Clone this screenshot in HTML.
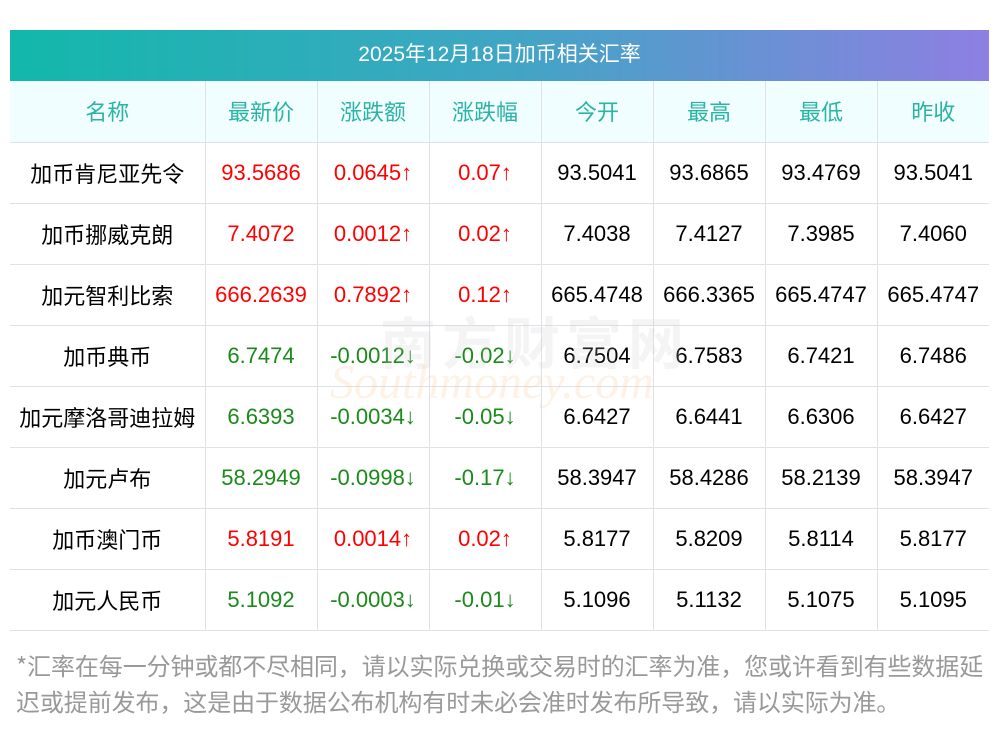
<!DOCTYPE html>
<html><head><meta charset="utf-8"><style>
body{margin:0;width:1000px;height:733px;background:#fff;font-family:"Liberation Sans","Noto Sans CJK SC",sans-serif;position:relative;overflow:hidden}
.title{position:absolute;left:10px;top:30px;width:979px;height:51px;background:linear-gradient(90deg,#12b8aa,#3fa6c4 50%,#8e7fe2);color:#fff;font-size:21px;line-height:49px;text-align:center}
table{position:absolute;left:10px;top:81px;width:979px;border-collapse:collapse;table-layout:fixed}
tr{height:61px}
td,th{height:60px;border:1px solid #e0e0e8;text-align:center;font-size:22px;font-weight:normal;padding:0;white-space:nowrap;line-height:1;overflow:hidden}
tr>*:first-child{border-left:none}tr>*:last-child{border-right:none}
th{background:#f0feff;color:#2bb3a6;font-family:"Noto Sans CJK SC",sans-serif}
td:first-child{font-family:"Noto Sans CJK SC",sans-serif}
tr:first-child th{border-top:none}
.r{color:#f00}.g{color:#1a8a1a}
.note{position:absolute;left:16px;top:647px;width:980px;color:#999;font-size:24px;line-height:36px;font-family:"Noto Sans CJK SC",sans-serif;letter-spacing:-0.1px;white-space:nowrap}
.wm{position:absolute;left:380px;top:300px;color:rgba(200,200,200,.2);font-size:56px;font-weight:bold;letter-spacing:6px;font-family:"Noto Sans CJK SC",sans-serif}
.wm2{position:absolute;left:330px;top:355px;color:rgba(250,200,150,.25);font-size:48px;font-style:italic;font-family:"Liberation Serif",serif}
</style></head><body>
<div class="title">2025年12月18日加币相关汇率</div>
<table>
<colgroup><col style="width:195px"><col style="width:112px"><col style="width:112px"><col style="width:112px"><col style="width:112px"><col style="width:112px"><col style="width:112px"><col style="width:112px"></colgroup>
<tr><th>名称</th><th>最新价</th><th>涨跌额</th><th>涨跌幅</th><th>今开</th><th>最高</th><th>最低</th><th>昨收</th></tr>
<tr><td>加币肯尼亚先令</td><td class="r">93.5686</td><td class="r">0.0645↑</td><td class="r">0.07↑</td><td>93.5041</td><td>93.6865</td><td>93.4769</td><td>93.5041</td></tr>
<tr><td>加币挪威克朗</td><td class="r">7.4072</td><td class="r">0.0012↑</td><td class="r">0.02↑</td><td>7.4038</td><td>7.4127</td><td>7.3985</td><td>7.4060</td></tr>
<tr><td>加元智利比索</td><td class="r">666.2639</td><td class="r">0.7892↑</td><td class="r">0.12↑</td><td>665.4748</td><td>666.3365</td><td>665.4747</td><td>665.4747</td></tr>
<tr><td>加币典币</td><td class="g">6.7474</td><td class="g">-0.0012↓</td><td class="g">-0.02↓</td><td>6.7504</td><td>6.7583</td><td>6.7421</td><td>6.7486</td></tr>
<tr><td>加元摩洛哥迪拉姆</td><td class="g">6.6393</td><td class="g">-0.0034↓</td><td class="g">-0.05↓</td><td>6.6427</td><td>6.6441</td><td>6.6306</td><td>6.6427</td></tr>
<tr><td>加元卢布</td><td class="g">58.2949</td><td class="g">-0.0998↓</td><td class="g">-0.17↓</td><td>58.3947</td><td>58.4286</td><td>58.2139</td><td>58.3947</td></tr>
<tr><td>加币澳门币</td><td class="r">5.8191</td><td class="r">0.0014↑</td><td class="r">0.02↑</td><td>5.8177</td><td>5.8209</td><td>5.8114</td><td>5.8177</td></tr>
<tr><td>加元人民币</td><td class="g">5.1092</td><td class="g">-0.0003↓</td><td class="g">-0.01↓</td><td>5.1096</td><td>5.1132</td><td>5.1075</td><td>5.1095</td></tr>
</table>
<div class="wm">南方财富网</div>
<div class="wm2">Southmoney.com</div>
<div class="note">*汇率在每一分钟或都不尽相同，请以实际兑换或交易时的汇率为准，您或许看到有些数据延<br>迟或提前发布，这是由于数据公布机构有时未必会准时发布所导致，请以实际为准。</div>
</body></html>
